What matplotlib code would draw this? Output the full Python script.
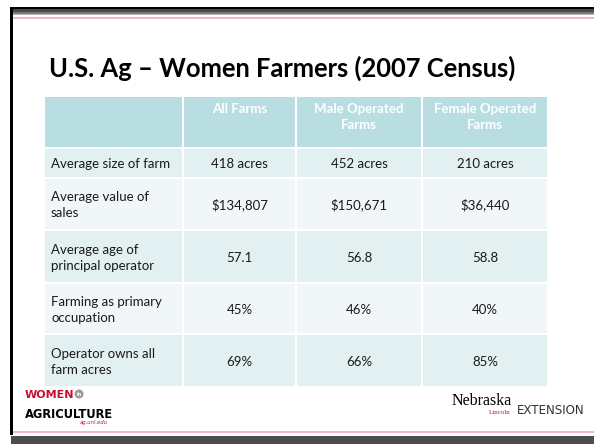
import matplotlib
matplotlib.use("Agg")
import matplotlib.pyplot as plt
from matplotlib.patches import Rectangle

# Table content
title = "U.S. Ag \u2013 Women Farmers (2007 Census)"
col_headers = ["", "All Farms", "Male Operated\nFarms", "Female Operated\nFarms"]
row_labels = [
    "Average size of farm",
    "Average value of\nsales",
    "Average age of\nprincipal operator",
    "Farming as primary\noccupation",
    "Operator owns all\nfarm acres",
]
all_farms = ["418 acres", "$134,807", "57.1", "45%", "69%"]
male_farms = ["452 acres", "$150,671", "56.8", "46%", "66%"]
female_farms = ["210 acres", "$36,440", "58.8", "40%", "85%"]

# Layout (pixels, figure is 594 x 444)
W, H = 594, 444
col_edges = [45, 183, 296, 422, 547]
row_edges = [97, 148, 178, 230, 283, 334, 386]
gap = 2
header_color = "#B8DEE1"
row_colors = ["#E3F0F2", "#F1F7F9"]
font = "Lato"

fig = plt.figure(figsize=(W / 100, H / 100), dpi=100)
ax = fig.add_axes([0, 0, 1, 1])
ax.set_xlim(0, W)
ax.set_ylim(H, 0)
ax.axis("off")


def band(x0, y0, x1, y1, color):
    ax.add_patch(Rectangle((x0, y0), x1 - x0, y1 - y0, facecolor=color,
                           edgecolor="none", lw=0))


# slide frame
band(10, 7, W, 9, "#000000")
band(10, 9, W, 12, "#4A4A4A")
band(10, 12, W, 14, "#7A7A7A")
band(10, 14, W, 15, "#BDBDBD")
band(10, 17, W, 18.7, "#F5B5BD")
band(10, 7, 12.5, 435, "#000000")
band(12.5, 430.5, W, 432.5, "#F0B8C0")
band(11, 435.5, W, H, "#4D4D4D")

ax.text(49, 77, title, fontsize=18.4, fontweight="bold", family=font,
        color="#000000", ha="left", va="baseline")

# table cells
columns = [row_labels, all_farms, male_farms, female_farms]
n_rows = len(row_labels)
for c in range(len(col_headers)):
    x0 = col_edges[c] + (0 if c == 0 else gap / 2)
    x1 = col_edges[c + 1] - (0 if c == len(col_headers) - 1 else gap / 2)
    # header
    band(x0, row_edges[0], x1, row_edges[1] - gap / 2, header_color)
    if col_headers[c]:
        ax.text((x0 + x1) / 2, row_edges[0] + 5.5, col_headers[c], fontsize=9.5,
                fontweight="bold", family=font, color="white", ha="center",
                va="top", linespacing=1.45)
    for r in range(n_rows):
        y0 = row_edges[r + 1] + gap / 2
        y1 = row_edges[r + 2] - (0 if r == n_rows - 1 else gap / 2)
        band(x0, y0, x1, y1, row_colors[r % 2])
        txt = columns[c][r]
        if c == 0:
            ax.text(x0 + 6, (y0 + y1) / 2 + 1, txt, fontsize=9.5, family=font,
                    color="#1A1A1A", ha="left", va="center", linespacing=1.4)
        else:
            ax.text((x0 + x1) / 2, (y0 + y1) / 2 + 1, txt, fontsize=9.5,
                    family=font, color="#1A1A1A", ha="center", va="center")

# footer logos (drawn as text)
ax.text(25, 397.5, "WOMEN", fontsize=8, fontweight="heavy",
        family="DejaVu Sans", color="#C8102E", ha="left", va="baseline")
ax.add_patch(plt.Circle((79, 394), 3.8, color="#9A9A9A"))
ax.text(79, 394.5, "in", fontsize=3.5, color="white", ha="center", va="center",
        fontweight="bold")
ax.text(24.5, 417.5, "AGRICULTURE", fontsize=8.3, fontweight="heavy",
        family="DejaVu Sans", color="#000000", ha="left", va="baseline")
ax.text(108, 423.5, "ag.unl.edu", fontsize=3.8, color="#C8102E", ha="right",
        va="baseline", style="italic")

ax.text(452, 404.5, "Nebraska", fontsize=11.5, family="Liberation Serif",
        color="#000000", ha="left", va="baseline")
band(514.5, 391, 515.3, 408, "#AAAAAA")
ax.text(511, 413.5, "Lincoln", fontsize=5, family="Liberation Serif",
        color="#D0103A", ha="right", va="baseline")
ax.text(516.5, 413.5, "EXTENSION", fontsize=8.6, family="DejaVu Sans",
        color="#333333", ha="left", va="baseline")

fig.savefig("out.png", dpi=100)
